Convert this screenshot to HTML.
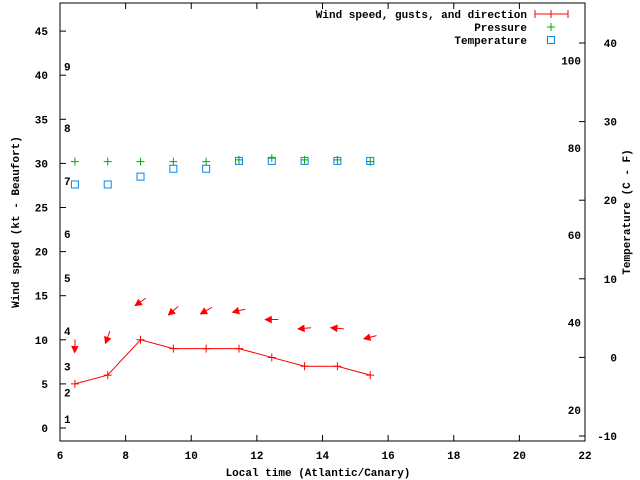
<!DOCTYPE html>
<html><head><meta charset="utf-8"><style>
body{margin:0;background:#fff}
svg{display:block}
text{font-family:"Liberation Mono",monospace;font-weight:bold;font-size:11px;fill:#000}
</style></head><body>
<svg id="c" width="640" height="480"></svg>
<script>
const hours=[6.5,7.5,8.5,9.5,10.5,11.5,12.5,13.5,14.5,15.5];
const wind=[5,6,10,9,9,9,8,7,7,6];
const windDir=[2,20,55,48,60,76,90,85,95,76];
const pressure=[30.2,30.2,30.2,30.2,30.2,30.4,30.6,30.4,30.4,30.2];
const tempC=[22,22,23,24,24,25,25,25,25,25];
const xTicks=[6,8,10,12,14,16,18,20,22];
const yTicks=[0,5,10,15,20,25,30,35,40,45];
const y2Ticks=[-10,0,10,20,30,40];
const fTicks=[20,40,60,80,100];
const beaufort=[[1,1],[2,4],[3,7],[4,11],[5,17],[6,22],[7,28],[8,34],[9,41]];

const L=60,R=585,T=3,B=441;
const X=v=>L+(v-6)*(R-L)/16;
const XD=v=>X(v)-1.5;
const Y=v=>428-v*8.82;
const Y2=c=>436-(c+10)*7.86;
const NS="http://www.w3.org/2000/svg";
const svg=document.getElementById('c');
function el(tag,attrs,txt){const e=document.createElementNS(NS,tag);for(const k in attrs)e.setAttribute(k,attrs[k]);if(txt!==undefined)e.textContent=txt;svg.appendChild(e);return e;}

let e=el('rect',{x:L,y:T,width:R-L,height:B-T,fill:'none',stroke:'#000'});



xTicks.forEach(v=>{
  e=el('line',{x1:X(v),x2:X(v),y1:B,y2:B-6,stroke:'#000'});
  
  
  e=el('line',{x1:X(v),x2:X(v),y1:T,y2:T+6,stroke:'#000'});
  
  
  e=el('text',{x:X(v),y:459,'text-anchor':'middle'},v);
  
  
});
yTicks.forEach(v=>{
  e=el('line',{x1:L,x2:L+6,y1:Y(v),y2:Y(v),stroke:'#000'});
  
  
  e=el('text',{x:48,y:Y(v)+4,'text-anchor':'end'},v);
  
  
});
y2Ticks.forEach(v=>{
  e=el('line',{x1:R,x2:R-6,y1:Y2(v),y2:Y2(v),stroke:'#000'});
  
  
  e=el('text',{x:617,y:Y2(v)+4,'text-anchor':'end'},v);
  
  
});
fTicks.forEach(v=>{
  e=el('text',{x:581,y:Y2((v-32)*5/9)+4,'text-anchor':'end'},v);
  
  
});
beaufort.forEach(b=>{
  e=el('text',{x:64,y:Y(b[1])+4},b[0]);
  
  
});

e=el('text',{x:318,y:476,'text-anchor':'middle'},'Local time (Atlantic/Canary)');


e=el('text',{x:0,y:0,'text-anchor':'middle',transform:'translate(19,222) rotate(-90)'},'Wind speed (kt - Beaufort)');


e=el('text',{x:0,y:0,'text-anchor':'middle',transform:'translate(630,212) rotate(-90)'},'Temperature (C - F)');



e=el('polyline',{points:hours.map((h,i)=>XD(h)+','+Y(wind[i])).join(' '),fill:'none',stroke:'#f00'});


hours.forEach((h,i)=>{
  e=el('path',{d:`M${XD(h)-4},${Y(wind[i])}h8M${XD(h)},${Y(wind[i])-4}v8`,stroke:'#f00'});
  
  
  const a=windDir[i]*Math.PI/180, len=13;
  const dx=-Math.sin(a)*len, dy=Math.cos(a)*len;
  const cx=XD(h), cy=Y(wind[i]+4.3);
  const tx=cx-dx/2, ty=cy-dy/2, hx=cx+dx/2, hy=cy+dy/2;
  const ux=dx/len, uy=dy/len;
  const p1x=hx-ux*6-uy*3, p1y=hy-uy*6+ux*3, p2x=hx-ux*6+uy*3, p2y=hy-uy*6-ux*3;
  e=el('path',{d:`M${tx},${ty}L${hx},${hy}M${hx},${hy}L${p1x},${p1y}L${p2x},${p2y}Z`,stroke:'#f00',fill:'#f00'});
  
  
  const py=Y(pressure[i]);
  e=el('path',{d:`M${XD(h)-4},${py}h8M${XD(h)},${py-4}v8`,stroke:'#0a0'});
  
  
  e=el('rect',{x:XD(h)-3.5,y:Y2(tempC[i])-3.5,width:7,height:7,fill:'none',stroke:'#08e'});
  
  
});

e=el('text',{x:527,y:18,'text-anchor':'end'},'Wind speed, gusts, and direction');


e=el('path',{d:'M535,14h33M535,10v8M568,10v8M551,10v8',stroke:'#f00'});


e=el('text',{x:527,y:31,'text-anchor':'end'},'Pressure');


e=el('path',{d:'M547,27h8M551,23v8',stroke:'#0a0'});


e=el('text',{x:527,y:44,'text-anchor':'end'},'Temperature');


e=el('rect',{x:547.5,y:36.5,width:7,height:7,fill:'none',stroke:'#08e'});


</script>
</body></html>
